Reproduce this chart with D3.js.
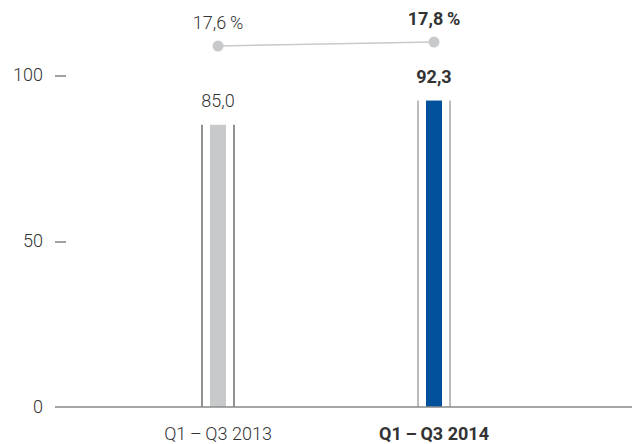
<!DOCTYPE html>
<html>
<head>
<meta charset="utf-8">
<script src="https://cdn.jsdelivr.net/npm/d3@7"></script>
<style>
  body { margin: 0; background: #fff; }
  text { font-family: Roboto, "Liberation Sans", Arial, sans-serif; font-weight: 300; fill: #333; }
  text.bold { font-weight: 700; }
</style>
</head>
<body>
<svg id="chart" width="637" height="444"></svg>
<script>
// data
const periods = ["Q1\u2009\u2013\u2009Q3 2013", "Q1\u2009\u2013\u2009Q3 2014"];
const values = [85.0, 92.3];
const margins = [17.6, 17.8];
const yTicks = [0, 50, 100];
const barColors = ["#c8c9cb", "#00509b"];
const frameColors = ["#555", "#999"];

const width = 637;
const height = 444;
const svg = d3.select("#chart");
const fmt = v => d3.format(".1f")(v).replace(".", ",");

// scales
const x = d3.scalePoint()
    .domain(periods)
    .range([218, 434]);

const y = d3.scaleLinear()
    .domain([0, 100])
    .range([407, 75]);

const yPct = d3.scaleLinear()
    .domain([17.0, 18.0])
    .range([58, 38]);

// y axis labels with dashes
const yAxis = svg.append("g");
yAxis.selectAll(".tick-label")
    .data(yTicks)
    .enter()
    .append("text")
    .attr("x", 43)
    .attr("y", d => y(d))
    .attr("dy", "0.36em")
    .attr("text-anchor", "end")
    .style("font-size", "18px")
    .text(d => d);

yAxis.selectAll(".tick-dash")
    .data(yTicks.filter(d => d > 0))
    .enter()
    .append("line")
    .attr("x1", 55)
    .attr("x2", 66)
    .attr("y1", d => y(d) + 1)
    .attr("y2", d => y(d) + 1)
    .attr("stroke", "#444")
    .attr("stroke-width", 1);

// bars with thin frame lines either side
const bars = svg.append("g");
periods.forEach((p, i) => {
  const cx = x(p);
  const top = y(values[i]);
  bars.append("rect")
      .attr("x", cx - 8)
      .attr("y", top)
      .attr("width", 16)
      .attr("height", y(0) - top)
      .attr("fill", barColors[i]);
  [-16, 16].forEach(off => {
    bars.append("line")
        .attr("x1", cx + off)
        .attr("x2", cx + off)
        .attr("y1", top)
        .attr("y2", y(0))
        .attr("stroke", frameColors[i])
        .attr("stroke-width", 1.3);
  });
  bars.append("text")
      .attr("class", i === 1 ? "bold" : null)
      .attr("x", cx)
      .attr("y", top - 18)
      .attr("text-anchor", "middle")
      .style("font-size", "18px")
      .text(fmt(values[i]));
});

// baseline
svg.append("line")
    .attr("x1", 55)
    .attr("x2", 632)
    .attr("y1", y(0))
    .attr("y2", y(0))
    .attr("stroke", "#888")
    .attr("stroke-width", 1.5);

// x labels
svg.selectAll(".x-label")
    .data(periods)
    .enter()
    .append("text")
    .attr("class", (d, i) => i === 1 ? "bold" : null)
    .attr("x", d => x(d))
    .attr("y", 440)
    .attr("text-anchor", "middle")
    .style("font-size", "18px")
    .text(d => d);

// margin line
const line = d3.line()
    .x((d, i) => x(periods[i]))
    .y(d => yPct(d));

svg.append("path")
    .datum(margins)
    .attr("d", line)
    .attr("fill", "none")
    .attr("stroke", "#c8c9cb")
    .attr("stroke-width", 1.5);

svg.selectAll(".dot")
    .data(margins)
    .enter()
    .append("circle")
    .attr("cx", (d, i) => x(periods[i]))
    .attr("cy", d => yPct(d))
    .attr("r", 5.5)
    .attr("fill", "#c8c9cb");

svg.selectAll(".pct-label")
    .data(margins)
    .enter()
    .append("text")
    .attr("class", (d, i) => i === 1 ? "bold" : null)
    .attr("x", (d, i) => x(periods[i]))
    .attr("y", d => yPct(d) - 17)
    .attr("text-anchor", "middle")
    .style("font-size", "18px")
    .text(d => fmt(d) + "\u2009%");
</script>
</body>
</html>
